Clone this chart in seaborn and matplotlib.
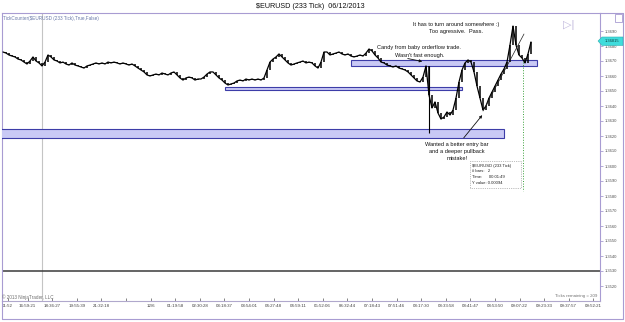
import numpy as np
import pandas as pd
import matplotlib
matplotlib.use("Agg")
import matplotlib.pyplot as plt
import seaborn as sns
from matplotlib.patches import Rectangle, Polygon
from matplotlib.lines import Line2D

# ---------------- data ----------------
closes = [
    1.36760, 1.36753, 1.36740, 1.36733, 1.36727, 1.36713, 1.36707, 1.36693, 1.36680, 1.36700,
    1.36727, 1.36700, 1.36687, 1.36667, 1.36693, 1.36740, 1.36727, 1.36707, 1.36700, 1.36687,
    1.36693, 1.36680, 1.36673, 1.36687, 1.36673, 1.36667, 1.36660, 1.36653, 1.36667, 1.36673,
    1.36680, 1.36687, 1.36680, 1.36687, 1.36680, 1.36693, 1.36687, 1.36693, 1.36687, 1.36680,
    1.36687, 1.36680, 1.36673, 1.36680, 1.36667, 1.36653, 1.36640, 1.36627, 1.36607, 1.36600,
    1.36607, 1.36613, 1.36607, 1.36620, 1.36613, 1.36607, 1.36620, 1.36627, 1.36607, 1.36587,
    1.36573, 1.36587, 1.36593, 1.36587, 1.36573, 1.36580, 1.36580, 1.36593, 1.36613, 1.36627,
    1.36627, 1.36607, 1.36587, 1.36573, 1.36553, 1.36540, 1.36547, 1.36553, 1.36567, 1.36573,
    1.36567, 1.36580, 1.36573, 1.36580, 1.36573, 1.36580, 1.36573, 1.36587, 1.36640, 1.36693,
    1.36713, 1.36727, 1.36747, 1.36727, 1.36707, 1.36687, 1.36673, 1.36680, 1.36687, 1.36693,
    1.36700, 1.36687, 1.36693, 1.36687, 1.36667, 1.36653, 1.36693, 1.36760, 1.36760, 1.36740,
    1.36747, 1.36753, 1.36760, 1.36747, 1.36740, 1.36747, 1.36733, 1.36727, 1.36733, 1.36740,
    1.36733, 1.36753, 1.36780, 1.36767, 1.36740, 1.36720, 1.36693, 1.36687, 1.36673, 1.36667,
    1.36660, 1.36667, 1.36653, 1.36647, 1.36640, 1.36627, 1.36607, 1.36587, 1.36567, 1.36560,
    1.36593, 1.36667, 1.36473, 1.36387, 1.36427, 1.36353, 1.36313, 1.36327, 1.36360, 1.36340,
    1.36373, 1.36453, 1.36560, 1.36640, 1.36687, 1.36707, 1.36693, 1.36627, 1.36533, 1.36453,
    1.36373, 1.36400, 1.36453, 1.36493, 1.36533, 1.36573, 1.36613, 1.36647, 1.36693, 1.36807,
    1.36933, 1.36807, 1.36740, 1.36720, 1.36687, 1.36747, 1.36827,
]
spike_bar = [142]
spike_low = [1.36220]

# zones (rectangles): bar start, bar end, low price, high price
zone_start = [-2, 74, 116]
zone_end = [167, 153, 178]
zone_low = [1.3619, 1.3651, 1.3667]
zone_high = [1.3625, 1.3653, 1.3671]

hline_price = 1.3530
session_bar = 13
last_price_label = "1.36815"

y_ticks = [1.3520, 1.3530, 1.3540, 1.3550, 1.3560, 1.3570, 1.3580, 1.3590, 1.3600,
           1.3610, 1.3620, 1.3630, 1.3640, 1.3650, 1.3660, 1.3670, 1.3680, 1.3690]
x_tick_labels = ["01:52", "16:59:21", "18:36:27", "19:55:39", "21:32:18", "", "12/6",
                 "01:19:58", "02:30:28", "03:18:37", "03:54:01", "04:27:48", "04:59:11",
                 "05:52:06", "06:32:44", "07:18:43", "07:51:46", "08:17:30", "08:33:58",
                 "08:41:47", "08:53:50", "09:07:22", "09:23:33", "09:37:57", "09:52:21"]
x_tick_bars = [1.5, 8.2, 16.4, 24.6, 32.8, 41.0, 49.2, 57.4, 65.6, 73.8, 82.0, 90.2, 98.4,
               106.6, 114.8, 123.0, 131.2, 139.4, 147.6, 155.8, 164.0, 172.2, 180.4, 188.6, 196.8]

# ---------------- figure ----------------
sns.set_theme(style="white")
plt.rcParams["font.family"] = ["Liberation Sans", "DejaVu Sans"]

W, H = 625, 322
fig = plt.figure(figsize=(W / 100, H / 100), dpi=100)
fig.patch.set_facecolor("white")
AL, AR, AT, AB = 2, 600, 13, 301
ax = fig.add_axes([AL / W, 1 - AB / H, (AR - AL) / W, (AB - AT) / H])

X0, X1 = -1 / 3, 199.0
Y0, Y1 = 1.3510, 1.3702
ax.set_xlim(X0, X1)
ax.set_ylim(Y0, Y1)


def dx(px):
    return X0 + (px - AL) / (AR - AL) * (X1 - X0)


def dy(pyv):
    return Y1 - (pyv - AT) / (AB - AT) * (Y1 - Y0)


LAV = "#a89cd2"

df = pd.DataFrame({"bar": np.arange(len(closes)), "close": closes})
df["open"] = [closes[0]] + closes[:-1]

# session break line & horizontal line
ax.axvline(session_bar, color="#c4c4c4", lw=0.8, zorder=1)
ax.axhline(hline_price, color="#3a3a3a", lw=1.1, zorder=2)

# zones
for s, e, lo, hi in zip(zone_start, zone_end, zone_low, zone_high):
    ax.add_patch(Rectangle((s, lo), e - s, hi - lo, facecolor="#c9c9f5",
                           edgecolor="#3d3da8", lw=0.8, zorder=3))

# candles
ax.vlines(df["bar"], df[["open", "close"]].min(axis=1), df[["open", "close"]].max(axis=1),
          color="black", lw=1.1, zorder=5)
for b, lo in zip(spike_bar, spike_low):
    ax.vlines(b, lo, max(closes[b], closes[b - 1]), color="black", lw=0.8, zorder=5)
sns.lineplot(data=df, x="bar", y="close", color="black", lw=0.9, ax=ax, zorder=6)

# trend line
ax.plot([dx(483), dx(524)], [dy(111), dy(34)], color="#202020", lw=0.5, zorder=7)

# green dotted measure line
ax.plot([dx(523), dx(523)], [dy(62), dy(191)], color="#3aa03a", lw=0.7, ls=":", zorder=7)

# tooltip box
ax.add_patch(Rectangle((dx(470), dy(188)), dx(521) - dx(470), dy(161) - dy(188),
                       facecolor="white", edgecolor="#808080", lw=0.5, ls=":", zorder=8))
for i, t in enumerate(["$EURUSD (233 Tick)", "# bars:   2", "Time:      00:01:49",
                       "Y value: 0.00094"]):
    ax.text(dx(472), dy(165.5 + 6 * i), t, fontsize=3.0, color="#202020",
            va="center", ha="left", zorder=9)

# annotations
TXT = dict(fontsize=4.1, color="#111111", ha="center", va="center", zorder=9)
ax.text(dx(456), dy(24.5), "It has to turn around somewhere :)", **TXT)
ax.text(dx(456), dy(32), "Too agressive.  Pass.", **TXT)
ax.text(dx(419), dy(48), "Candy from baby orderflow trade.", **TXT)
ax.text(dx(420), dy(56), "Wasn't fast enough.", **TXT)
ax.text(dx(457), dy(144), "Wanted a better entry bar", **TXT)
ax.text(dx(457), dy(151), "and a deeper pullback", **TXT)
ax.text(dx(457), dy(158), "mistake!", **TXT)

ARW = dict(arrowstyle="-|>", color="#111111", lw=0.6, mutation_scale=4)
ax.annotate("", xy=(dx(425), dy(62)), xytext=(dx(405), dy(58)), arrowprops=ARW, zorder=9)
ax.annotate("", xy=(dx(484), dy(113)), xytext=(dx(462), dy(140)), arrowprops=ARW, zorder=9)

# small texts inside panel
ax.text(dx(3), dy(18.5), "TickCounter($EURUSD (233 Tick),True,False)", fontsize=3.3,
        color="#6878a8", ha="left", va="center")
ax.text(dx(2.5), dy(297.5), "\u00a9 2013 NinjaTrader, LLC", fontsize=3.3, color="#707070",
        ha="left", va="center")
ax.text(dx(597), dy(295.5), "Ticks remaining = 209", fontsize=3.2, color="#707070",
        ha="right", va="center")
ax.text(dx(569), dy(25), "\u25b7|", fontsize=8, color="#c0b8dc", ha="center", va="center")

# axes styling
ax.yaxis.tick_right()
ax.set_yticks(y_ticks)
ax.set_yticklabels([f"{v:.4f}" for v in y_ticks])
ax.set_xticks(x_tick_bars)
ax.set_xticklabels(x_tick_labels)
ax.tick_params(axis="y", direction="out", length=2.5, width=0.6, color=LAV,
               labelsize=3.0, labelcolor="#505050", pad=1)
ax.tick_params(axis="x", direction="in", length=2.5, width=0.6, color="#707070",
               labelsize=3.2, labelcolor="#404040", pad=2.5, bottom=True)
ax.set_xlabel("")
ax.set_ylabel("")
for sp in ax.spines.values():
    sp.set_color(LAV)
    sp.set_linewidth(0.8)
ax.spines["bottom"].set_color("#b0a8cc")

# title
fig.text(310 / W, 1 - 6 / H, "$EURUSD (233 Tick)  06/12/2013", fontsize=5.2,
         color="#111111", ha="center", va="center")

# outer frame lines
def fl(x0, y0, x1, y1, **kw):
    fig.add_artist(Line2D([x0 / W, x1 / W], [1 - y0 / H, 1 - y1 / H],
                          transform=fig.transFigure, **kw))

fl(AR, AT, 623, AT, color=LAV, lw=0.8)
fl(623, AT, 623, 319, color=LAV, lw=0.8)
fl(AL, AB, AL, 319, color=LAV, lw=0.8)
fl(AL, 319, 623, 319, color=LAV, lw=0.8)

# small box top-right
fig.add_artist(Rectangle((615 / W, 1 - 22 / H), 7 / W, 8 / H, transform=fig.transFigure,
                         facecolor="white", edgecolor=LAV, lw=0.6))

# current price marker
poly = [(598, 41), (602, 37), (623, 37), (623, 45.5), (602, 45.5)]
fig.add_artist(Polygon([(x / W, 1 - y / H) for x, y in poly], closed=True,
                       transform=fig.transFigure, facecolor="#3fdcdc", edgecolor="#30b0b0",
                       lw=0.4, zorder=20))
fig.text(612 / W, 1 - 41.2 / H, last_price_label, fontsize=2.9, color="#0d3f3f",
         ha="center", va="center", zorder=21)

fig.savefig("out.png", dpi=100)
